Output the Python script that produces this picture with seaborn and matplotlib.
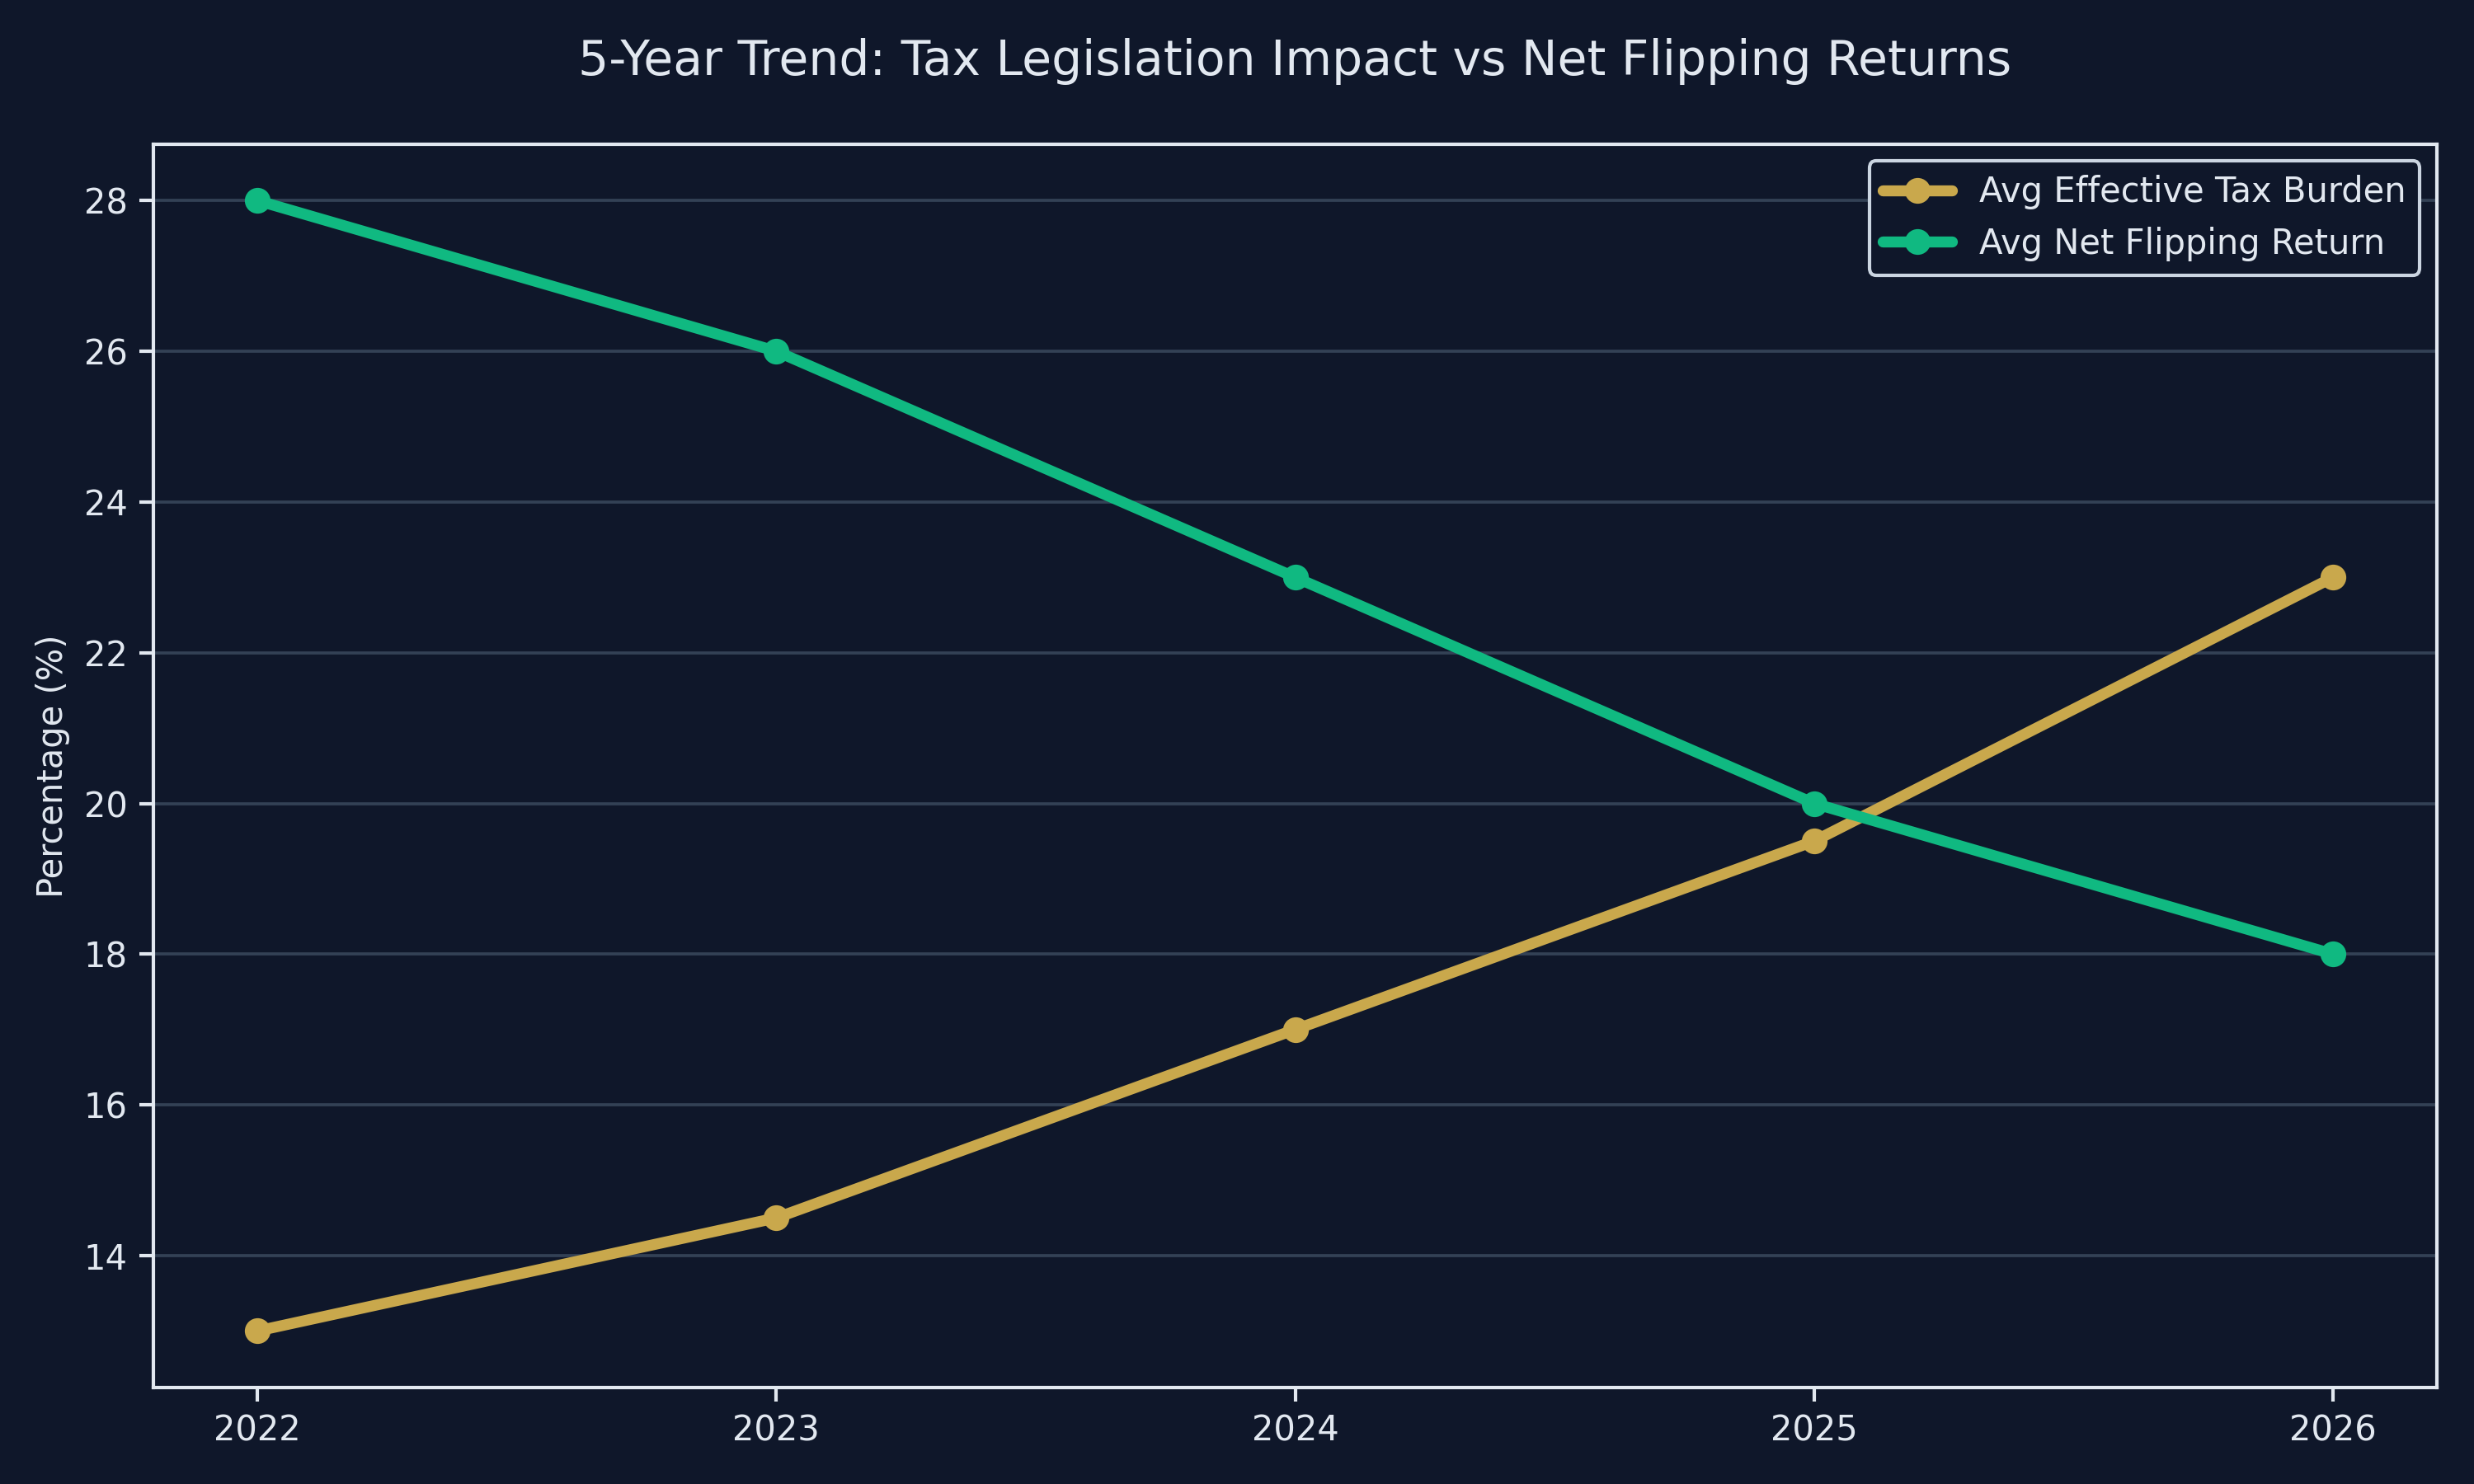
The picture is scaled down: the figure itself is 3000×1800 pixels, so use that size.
import pandas as pd
import matplotlib
matplotlib.use("Agg")
import matplotlib.pyplot as plt
import seaborn as sns

# data
years = ["2022", "2023", "2024", "2025", "2026"]
tax_burden = [13.0, 14.5, 17.0, 19.5, 23.0]
net_return = [28.0, 26.0, 23.0, 20.0, 18.0]

BG = "#0f172a"
FG = "#e2e8f0"
GOLD = "#c9a84c"
GREEN = "#10b981"

sns.set_style("dark")
plt.rcParams.update({
    "font.family": ["DejaVu Sans"],
    "figure.facecolor": BG,
    "axes.facecolor": BG,
    "axes.edgecolor": FG,
    "axes.labelcolor": FG,
    "xtick.color": FG,
    "ytick.color": FG,
    "text.color": FG,
})

df = pd.DataFrame({
    "year": years * 2,
    "value": tax_burden + net_return,
    "series": ["Avg Effective Tax Burden"] * len(years) + ["Avg Net Flipping Return"] * len(years),
})

fig, ax = plt.subplots(figsize=(10, 6), dpi=300)
sns.lineplot(
    data=df, x="year", y="value", hue="series",
    palette=[GOLD, GREEN], marker="o", markersize=7.5,
    markeredgewidth=0, linewidth=3.2, ax=ax, sort=False,
)

ax.set_title("5-Year Trend: Tax Legislation Impact vs Net Flipping Returns",
             fontsize=14, color=FG, pad=20)
ax.set_xlabel("")
ax.set_ylabel("Percentage (%)", fontsize=10, color=FG)
ax.tick_params(axis="both", labelsize=10, length=4, width=1, colors=FG, left=True, bottom=True)
ax.yaxis.grid(True, color="#334155", linewidth=0.9)
ax.xaxis.grid(False)
for s in ax.spines.values():
    s.set_color(FG)
    s.set_linewidth(1)

leg = ax.legend(loc="upper right", fontsize=10, facecolor=BG, edgecolor="#cbd5e1",
                framealpha=1, fancybox=True, borderpad=0.4)
for t in leg.get_texts():
    t.set_color(FG)

fig.subplots_adjust(left=0.062, right=0.985, top=0.903, bottom=0.065)
fig.savefig("out.png", dpi=300, facecolor=BG)
